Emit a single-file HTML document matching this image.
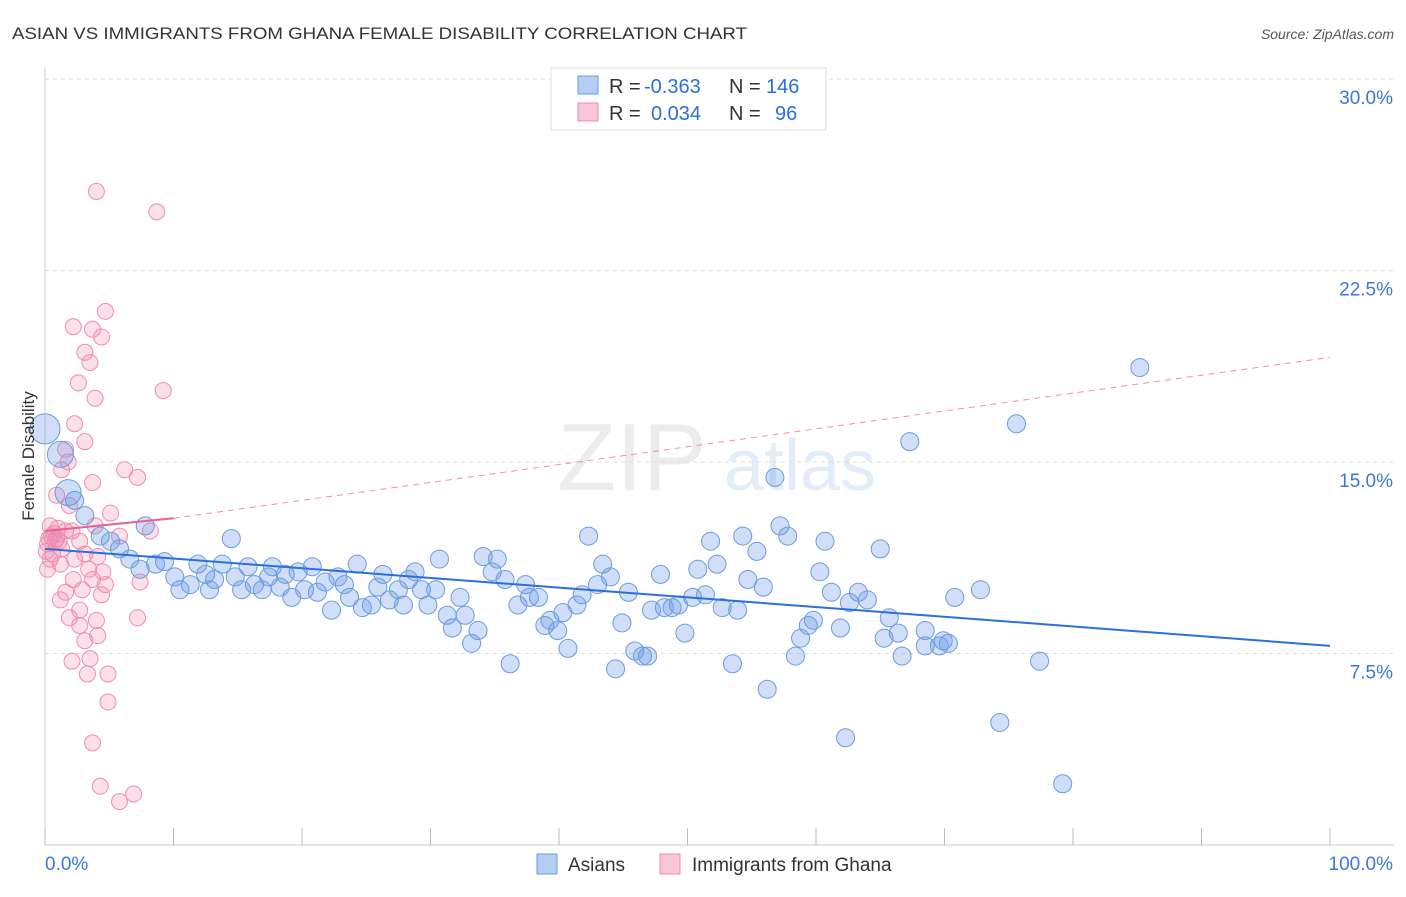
<!DOCTYPE html>
<html><head><meta charset="utf-8"><style>
body{margin:0;background:#fff;font-family:"Liberation Sans",sans-serif;}
svg text{font-family:"Liberation Sans",sans-serif;}
</style></head><body>
<svg id="chart" width="1406" height="892" xmlns="http://www.w3.org/2000/svg">
<text x="12" y="39" font-size="17" fill="#333" textLength="735" lengthAdjust="spacingAndGlyphs">ASIAN VS IMMIGRANTS FROM GHANA FEMALE DISABILITY CORRELATION CHART</text>
<text x="1394" y="39" font-size="14" fill="#555" font-style="italic" text-anchor="end">Source: ZipAtlas.com</text>
<g opacity="0.18">
<text x="632" y="490" font-size="96" font-family="Liberation Serif" fill="#999" text-anchor="middle">ZIP</text>
<text x="800" y="490" font-size="72" fill="#6a9be0" text-anchor="middle">atlas</text>
</g>
<g id="grid"></g>
<g id="axes"></g>
<g id="marks"></g>
<text transform="translate(34,456) rotate(-90)" font-size="17" fill="#333" text-anchor="middle">Female Disability</text>
<g>
<rect x="551" y="68" width="275" height="62" fill="#fff" stroke="#ddd"/>
<rect x="578" y="76" width="20" height="18" fill="#b5cdf3" stroke="#6a9be0"/>
<text x="609" y="93" font-size="20" fill="#333">R = </text><text x="644" y="93" font-size="20" fill="#2a6fdb">-0.363</text>
<text x="729" y="93" font-size="20" fill="#333">N = </text><text x="766" y="93" font-size="20" fill="#2a6fdb">146</text>
<rect x="578" y="103" width="20" height="18" fill="#f8c6d6" stroke="#f08cb0"/>
<text x="609" y="120" font-size="20" fill="#333">R = </text><text x="651" y="120" font-size="20" fill="#2a6fdb">0.034</text>
<text x="729" y="120" font-size="20" fill="#333">N = </text><text x="775" y="120" font-size="20" fill="#2a6fdb">96</text>
</g>
<g>
<rect x="537" y="854" width="20" height="20" fill="#b5cdf3" stroke="#6a9be0"/>
<text x="568" y="871" font-size="19" fill="#333">Asians</text>
<rect x="660" y="854" width="20" height="20" fill="#f8c6d6" stroke="#f08cb0"/>
<text x="692" y="871" font-size="19" fill="#333">Immigrants from Ghana</text>
</g>
</svg>
<script>
const yTicks=[7.5,15,22.5,30];
const yTickLabels=["7.5%","15.0%","22.5%","30.0%"];
const xTicks=[0,10,20,30,40,50,60,70,80,90,100];
const asianX=[0,1.2,1.8,2.3,3.1,4.3,5.1,5.8,6.6,7.8,7.4,8.6,9.3,10.1,10.5,11.3,11.9,12.5,12.8,13.2,13.8,14.5,14.8,15.3,15.8,16.3,16.9,17.4,17.7,18.3,18.7,19.2,19.7,20.2,20.8,21.2,21.8,22.3,22.8,23.3,23.7,24.3,24.7,25.4,25.9,26.3,26.8,27.5,27.9,28.3,28.8,29.3,29.8,30.4,30.7,31.3,31.7,32.3,32.7,33.2,33.7,34.1,34.8,35.2,35.8,36.2,36.8,37.4,37.7,38.4,38.9,39.3,39.9,40.3,40.7,41.4,41.8,42.3,43.0,43.4,44.0,44.4,44.9,45.4,45.9,46.5,46.9,47.2,47.9,48.2,48.8,49.3,49.8,50.4,50.8,51.4,51.8,52.3,52.7,53.5,53.9,54.3,54.7,55.4,55.9,56.2,56.8,57.2,57.8,58.4,58.8,59.4,59.8,60.3,60.7,61.2,61.9,62.3,62.6,63.3,64.0,65.0,65.3,65.7,66.4,66.7,67.3,68.5,68.5,69.6,69.9,70.3,70.8,72.8,74.3,75.6,77.4,79.2,85.2];
const asianY=[16.3,15.3,13.8,13.5,12.9,12.1,11.9,11.6,11.2,12.5,10.8,11.0,11.1,10.5,10.0,10.2,11.0,10.6,10.0,10.4,11.0,12.0,10.5,10.0,10.9,10.2,10.0,10.5,10.9,10.1,10.6,9.7,10.7,10.0,10.9,9.9,10.3,9.2,10.5,10.2,9.7,11.0,9.3,9.4,10.1,10.6,9.6,10.0,9.4,10.4,10.7,10.0,9.4,10.0,11.2,9.0,8.5,9.7,9.0,7.9,8.4,11.3,10.7,11.2,10.4,7.1,9.4,10.2,9.7,9.7,8.6,8.8,8.4,9.1,7.7,9.4,9.8,12.1,10.2,11.0,10.5,6.9,8.7,9.9,7.6,7.4,7.4,9.2,10.6,9.3,9.3,9.4,8.3,9.7,10.8,9.8,11.9,11.0,9.3,7.1,9.2,12.1,10.4,11.5,10.1,6.1,14.4,12.5,12.1,7.4,8.1,8.6,8.8,10.7,11.9,9.9,8.5,4.2,9.5,9.9,9.6,11.6,8.1,8.9,8.3,7.4,15.8,8.4,7.8,7.8,8.0,7.9,9.7,10.0,4.8,16.5,7.2,2.4,18.7];
const ghanaX=[0.4,0.5,0.2,0.8,0.4,0.6,1.0,1.3,1.2,1.6,0.9,1.3,1.6,1.8,1.9,2.1,2.2,1.6,1.9,2.1,2.3,2.2,2.6,3.1,3.1,3.5,3.7,3.9,4.4,4.7,4.0,8.7,9.2,6.2,7.2,8.2,5.1,3.7,2.7,3.1,3.4,3.7,4.1,4.5,4.7,2.9,2.7,2.7,3.1,3.5,3.3,4.0,4.1,4.9,4.9,3.7,4.3,5.8,6.9,7.2,7.4,4.4,5.8,3.9,2.3,1.2,0.2,0.3,0.7,1.1,0.1,0.9];
const ghanaY=[12.5,12.1,11.8,11.9,11.2,11.4,12.4,11.6,11.0,12.3,13.7,14.7,15.5,15.0,13.3,12.3,10.4,9.9,8.9,7.2,16.5,20.3,18.1,15.8,19.3,18.9,20.2,17.5,19.9,20.9,25.6,24.8,17.8,14.7,14.4,12.3,13.0,14.2,11.9,11.4,10.8,10.4,11.3,10.7,10.2,10.0,9.2,8.6,8.0,7.3,6.7,8.8,8.2,6.7,5.6,4.0,2.3,1.7,2.0,8.9,10.3,9.8,12.1,12.5,11.2,9.6,10.8,12.0,12.2,11.9,11.5,12.0];
const X=v=>45+v*12.85, Y=v=>845-v*25.53;
const NS="http://www.w3.org/2000/svg";
function mk(t,a,p){const e=document.createElementNS(NS,t);for(const k in a)e.setAttribute(k,a[k]);p.appendChild(e);return e;}
const grid=document.getElementById('grid'),axes=document.getElementById('axes'),marks=document.getElementById('marks');
yTicks.forEach((t,i)=>{
 const l=mk('line',{x1:45,x2:1394,y1:Y(t),y2:Y(t),stroke:'#ddd','stroke-dasharray':'4,4'},grid);
 
 
 const tx=mk('text',{x:1393,y:Y(t)+25,'font-size':19,fill:'#3a78d8','text-anchor':'end'},axes);
 tx.textContent=yTickLabels[i];
 
 
});
const ax=mk('line',{x1:45,x2:1394,y1:845,y2:845,stroke:'#ccc'},axes);


const ay=mk('line',{x1:45,x2:45,y1:68,y2:845,stroke:'#ccc'},axes);


xTicks.forEach(t=>{const l=mk('line',{x1:X(t),x2:X(t),y1:828,y2:845,stroke:'#bbb'},axes);
 
 });
const x0=mk('text',{x:45,y:870,'font-size':19,fill:'#3a78d8'},axes);x0.textContent='0.0%';


const x1=mk('text',{x:1393,y:870,'font-size':19,fill:'#3a78d8','text-anchor':'end'},axes);x1.textContent='100.0%';


ghanaX.forEach((x,i)=>{const c=mk('circle',{cx:X(x),cy:Y(ghanaY[i]),r:8,fill:'rgba(242,140,176,0.28)',stroke:'#f08cb0','stroke-width':1},marks);
 
 });
asianX.forEach((x,i)=>{const big=i<3;const c=mk('circle',{cx:X(x),cy:Y(asianY[i]),r:big?(i==0?15:13):9,fill:'rgba(110,155,230,0.32)',stroke:'#6a9be0','stroke-width':1},marks);
 
 });
const bt=mk('line',{x1:X(0),y1:Y(11.6),x2:X(100),y2:Y(7.8),stroke:'#2a6fdb','stroke-width':2},marks);


const pt=mk('line',{x1:X(0),y1:Y(12.3),x2:X(10),y2:Y(12.8),stroke:'#e8608f','stroke-width':2},marks);


const pd=mk('line',{x1:X(10),y1:Y(12.8),x2:X(100),y2:Y(19.1),stroke:'#e8608f','stroke-width':1,'stroke-dasharray':'6,5',opacity:0.7},marks);


</script>
</body></html>
